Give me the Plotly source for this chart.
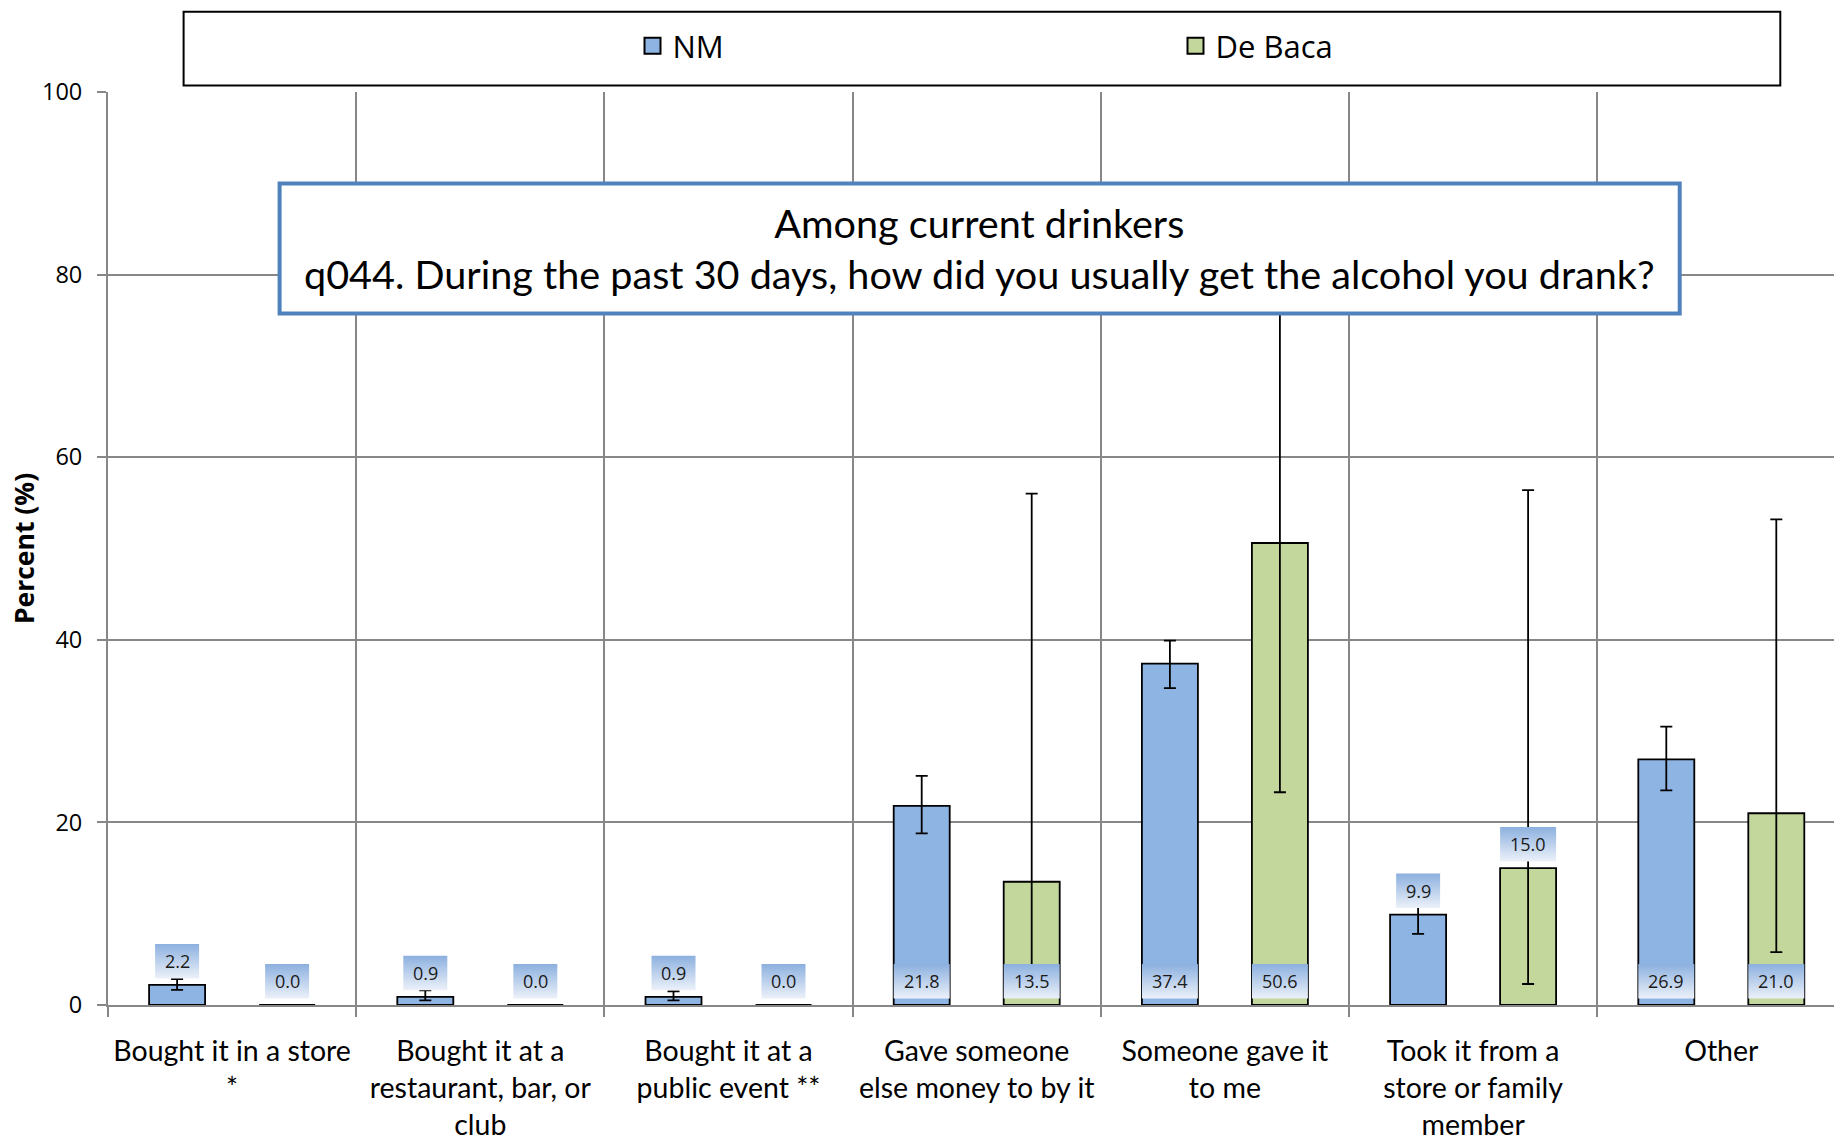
import plotly.graph_objects as go

# ---- data -------------------------------------------------------------
categories = [
    "Bought it in a store<br>*",
    "Bought it at a<br>restaurant, bar, or<br>club",
    "Bought it at a<br>public event **",
    "Gave someone<br>else money to by it",
    "Someone gave it<br>to me",
    "Took it from a<br>store or family<br>member",
    "Other",
]
series_names = ["NM", "De Baca"]

nm_values = [2.2, 0.9, 0.9, 21.8, 37.4, 9.9, 26.9]
nm_upper = [2.85, 1.6, 1.5, 25.1, 39.9, 12.0, 30.5]
nm_lower = [1.65, 0.5, 0.5, 18.8, 34.7, 7.8, 23.5]

deb_values = [0.0, 0.0, 0.0, 13.5, 50.6, 15.0, 21.0]
deb_upper = [None, None, None, 56.0, 78.0, 56.4, 53.2]
deb_lower = [None, None, None, 2.0, 23.3, 2.3, 5.8]

y_ticks = [0, 20, 40, 60, 80, 100]
title_lines = ["Among current drinkers",
               "q044. During the past 30 days, how did you usually get the alcohol you drank?"]

# ---- layout constants -------------------------------------------------
W, H = 1834, 1147
ML, MR, MT, MB = 108, 0, 92, 142
PW, PH = W - ML - MR, H - MT - MB
CAT_PX = 248.2                      # pixels per category slot
X_RANGE = [-0.5, -0.5 + PW / CAT_PX]
Y_RANGE = [0, 100]
PX_PER_Y = PH / (Y_RANGE[1] - Y_RANGE[0])

BAR_W = 56 / CAT_PX
BAR_SHIFT = 55 / CAT_PX
NM_COLOR = "#8EB4E3"
DEB_COLOR = "#C3D69B"
GRID = "#878787"
LABEL_FONT = "Open Sans, sans-serif"
CAL_FONT = "Lato, sans-serif"
# per category: value label sits at the bar base (True) or just above the bar (False)
LABEL_AT_BASE = [False, False, False, True, True, False, True]
BOX_H = 34.5 / PX_PER_Y
BOX_GAP = 6.5 / PX_PER_Y


def px_to_paper_x(px):
    return (px - ML) / PW


def px_to_paper_y(py):
    return (H - MB - py) / PH


def err_arrays(vals, up, lo):
    plus = [None if u is None else u - v for v, u in zip(vals, up)]
    minus = [None if l is None else v - l for v, l in zip(vals, lo)]
    return plus, minus


fig = go.Figure()

x_idx = list(range(len(categories)))
series = [
    (series_names[0], nm_values, nm_upper, nm_lower, NM_COLOR, -BAR_SHIFT, "legend"),
    (series_names[1], deb_values, deb_upper, deb_lower, DEB_COLOR, BAR_SHIFT, "legend2"),
]

for name, vals, up, lo, color, shift, leg in series:
    plus, minus = err_arrays(vals, up, lo)
    fig.add_trace(go.Bar(
        x=x_idx, y=vals, name=name, showlegend=False,
        width=BAR_W, offset=shift - BAR_W / 2,
        marker=dict(color=color, line=dict(color="black", width=1.8)),
        error_y=dict(type="data", symmetric=False, array=plus, arrayminus=minus,
                     color="black", thickness=1.8, width=6),
        hoverinfo="skip",
    ))

# value labels: gradient boxes with the value printed on them
annotations = []
for name, vals, up, lo, color, shift, leg in series:
    for i, v in enumerate(vals):
        txt = f"{v:.1f}"
        half_w = (12 * len(txt) + 8) / 2 / CAT_PX
        xc = i + shift
        y0 = BOX_GAP if LABEL_AT_BASE[i] else v + BOX_GAP
        y1 = y0 + BOX_H
        fig.add_trace(go.Scatter(
            x=[xc - half_w, xc + half_w, xc + half_w, xc - half_w, xc - half_w],
            y=[y0, y0, y1, y1, y0],
            mode="lines", fill="toself", line=dict(width=0),
            fillgradient=dict(type="vertical",
                              colorscale=[[0, "#ECF1F9"], [1, "#8CB0DF"]]),
            showlegend=False, hoverinfo="skip",
        ))
        annotations.append(dict(
            x=xc, y=(y0 + y1) / 2, xref="x", yref="y", text=txt, showarrow=False,
            font=dict(family=LABEL_FONT, size=18, color="#1a1a1a"),
            xanchor="center", yanchor="middle",
        ))

# legend entries (square swatches)
for name, vals, up, lo, color, shift, leg in series:
    fig.add_trace(go.Scatter(
        x=[None], y=[None], mode="markers", name=name, legend=leg,
        marker=dict(symbol="square", size=16, color=color,
                    line=dict(color="black", width=2)),
    ))

legend_style = dict(
    orientation="h", xref="container", yref="container",
    xanchor="left", yanchor="middle", bgcolor="rgba(0,0,0,0)", borderwidth=0,
    font=dict(family=LABEL_FONT, size=31, color="black"), itemsizing="trace",
)

# title text
annotations.append(dict(
    x=px_to_paper_x(979.7), y=px_to_paper_y(248.5), xref="paper", yref="paper",
    text="<br>".join(title_lines), showarrow=False, align="center",
    xanchor="center", yanchor="middle",
    font=dict(family=CAL_FONT, size=39.6, color="black"),
))

shapes = [
    # legend frame
    dict(type="rect", xref="paper", yref="paper",
         x0=px_to_paper_x(183.6), x1=px_to_paper_x(1780.3),
         y0=px_to_paper_y(85.4), y1=px_to_paper_y(11.7),
         line=dict(color="black", width=2), fillcolor="white", layer="above"),
    # title frame
    dict(type="rect", xref="paper", yref="paper",
         x0=px_to_paper_x(279.6), x1=px_to_paper_x(1679.7),
         y0=px_to_paper_y(313.5), y1=px_to_paper_y(183.6),
         line=dict(color="#4F81BD", width=4), fillcolor="white", layer="above"),
]

fig.update_layout(
    width=W, height=H,
    margin=dict(l=ML, r=MR, t=MT, b=MB, pad=0, autoexpand=False),
    paper_bgcolor="white", plot_bgcolor="white",
    barmode="overlay",
    showlegend=True,
    legend=dict(legend_style, x=(652.5 - 20) / W, y=1 - 46.0 / H),
    legend2=dict(legend_style, x=(1195.5 - 20) / W, y=1 - 46.0 / H),
    annotations=annotations,
    shapes=shapes,
    xaxis=dict(
        range=X_RANGE, tickmode="array", tickvals=x_idx, ticktext=categories,
        showgrid=False, ticks="", zeroline=False,
        showline=True, linecolor=GRID, linewidth=2,
        tickfont=dict(family=CAL_FONT, size=28.5, color="black"),
        ticklabelstandoff=20,
        minor=dict(tickmode="array", tickvals=[i + 0.5 for i in x_idx[:-1]] + [-0.5],
                   showgrid=True, gridcolor=GRID, gridwidth=1.5,
                   ticks="outside", ticklen=10, tickcolor=GRID, tickwidth=1.5),
        automargin=False, fixedrange=True,
    ),
    yaxis=dict(
        range=Y_RANGE, tickmode="array", tickvals=y_ticks,
        showgrid=True, gridcolor=GRID, gridwidth=1.5, zeroline=False,
        showline=True, linecolor=GRID, linewidth=2,
        ticks="outside", ticklen=9, tickcolor=GRID, tickwidth=1.5,
        tickfont=dict(family=LABEL_FONT, size=23.5, color="black"),
        ticklabelstandoff=10,
        title=dict(text="<b>Percent (%)</b>", standoff=0,
                   font=dict(family=LABEL_FONT, size=26.5, color="black")),
        automargin=False, fixedrange=True,
    ),
)

fig.write_html("out.html")
